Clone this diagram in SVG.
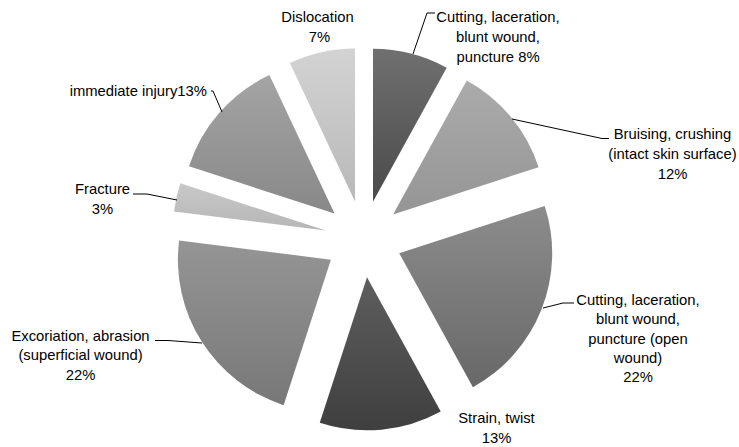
<svg xmlns="http://www.w3.org/2000/svg" width="739" height="447" viewBox="0 0 739 447">
<defs>
<linearGradient id="g1" x1="0" y1="0" x2="0" y2="1"><stop offset="0" stop-color="#707070"/><stop offset="1" stop-color="#4a4a4a"/></linearGradient>
<linearGradient id="g2" x1="0" y1="0" x2="0" y2="1"><stop offset="0" stop-color="#ababab"/><stop offset="1" stop-color="#959595"/></linearGradient>
<linearGradient id="g3" x1="0" y1="0" x2="0" y2="1"><stop offset="0" stop-color="#8c8c8c"/><stop offset="1" stop-color="#686868"/></linearGradient>
<linearGradient id="g4" x1="0" y1="0" x2="0" y2="1"><stop offset="0" stop-color="#5e5e5e"/><stop offset="1" stop-color="#3f3f3f"/></linearGradient>
<linearGradient id="g5" x1="0" y1="0" x2="0" y2="1"><stop offset="0" stop-color="#959595"/><stop offset="1" stop-color="#787878"/></linearGradient>
<linearGradient id="g6" x1="0" y1="0" x2="0" y2="1"><stop offset="0" stop-color="#c8c8c8"/><stop offset="1" stop-color="#b6b6b6"/></linearGradient>
<linearGradient id="g7" x1="0" y1="0" x2="0" y2="1"><stop offset="0" stop-color="#a4a4a4"/><stop offset="1" stop-color="#888888"/></linearGradient>
<linearGradient id="g8" x1="0" y1="0" x2="0" y2="1"><stop offset="0" stop-color="#d3d3d3"/><stop offset="1" stop-color="#b8b8b8"/></linearGradient>
</defs>
<style>
text{font-family:"Liberation Sans",Arial,sans-serif;font-size:14.8px;fill:#000;text-anchor:middle}
.lead{fill:none;stroke:#000;stroke-width:1}
</style>
<rect width="739" height="447" fill="#fff"/>
<g id="slice-cutting-8">
<path d="M372.98 201.71 L372.98 48.71 A153 153 0 0 1 446.69 67.64 Z" fill="url(#g1)"/>
<text x="498" y="22">Cutting, laceration,</text>
<text x="498" y="42">blunt wound,</text>
<text x="498" y="62">puncture 8%</text>
</g>
<g id="slice-bruising-12">
<path d="M393.06 214.46 L466.77 80.39 A153 153 0 0 1 538.58 167.18 Z" fill="url(#g2)"/>
<text x="672.5" y="139">Bruising, crushing</text>
<text x="672.5" y="159">(intact skin surface)</text>
<text x="672.5" y="178.5">12%</text>
</g>
<g id="slice-cutting-open-22">
<path d="M399.2 253.17 L544.72 205.89 A153 153 0 0 1 472.91 387.24 Z" fill="url(#g3)"/>
<text x="638" y="305">Cutting, laceration,</text>
<text x="638" y="324.3">blunt wound,</text>
<text x="638" y="343.6">puncture (open</text>
<text x="638" y="362.9">wound)</text>
<text x="638" y="382.2">22%</text>
</g>
<g id="slice-strain-13">
<path d="M367.02 277.33 L440.73 411.4 A153 153 0 0 1 319.74 422.85 Z" fill="url(#g4)"/>
<text x="496.5" y="422.5">Strain, twist</text>
<text x="496.5" y="442.5">13%</text>
</g>
<g id="slice-excoriation-22">
<path d="M330.89 259.63 L283.61 405.15 A153 153 0 0 1 179.1 240.46 Z" fill="url(#g5)"/>
<text x="80.5" y="340.7">Excoriation, abrasion</text>
<text x="80.5" y="360">(superficial wound)</text>
<text x="80.5" y="380">22%</text>
</g>
<g id="slice-fracture-3">
<path d="M325.83 230.6 L174.04 211.43 A153 153 0 0 1 180.31 183.32 Z" fill="url(#g6)"/>
<text x="102.5" y="194">Fracture</text>
<text x="102.5" y="214">3%</text>
</g>
<g id="slice-immediate-13">
<path d="M334.52 213.54 L189.0 166.26 A153 153 0 0 1 269.37 75.11 Z" fill="url(#g7)"/>
<text x="138.3" y="96">immediate injury13%</text>
</g>
<g id="slice-dislocation-7">
<path d="M355.0 201.43 L289.85 63.0 A153 153 0 0 1 355.0 48.43 Z" fill="url(#g8)"/>
<text x="317.5" y="21.7">Dislocation</text>
<text x="319.5" y="41.7">7%</text>
</g>
<g id="connectors">
<polyline class="lead" points="435,13 427,13 413,54"/>
<polyline class="lead" points="512,119 602,138.5 609,138.5"/>
<polyline class="lead" points="543,308 563,303 574,303"/>
<polyline class="lead" points="155,340.5 168,340.5 202,343"/>
<polyline class="lead" points="133,194 147,194 177,200"/>
<polyline class="lead" points="211,91 213,91 222,112"/>
</g>
</svg>
